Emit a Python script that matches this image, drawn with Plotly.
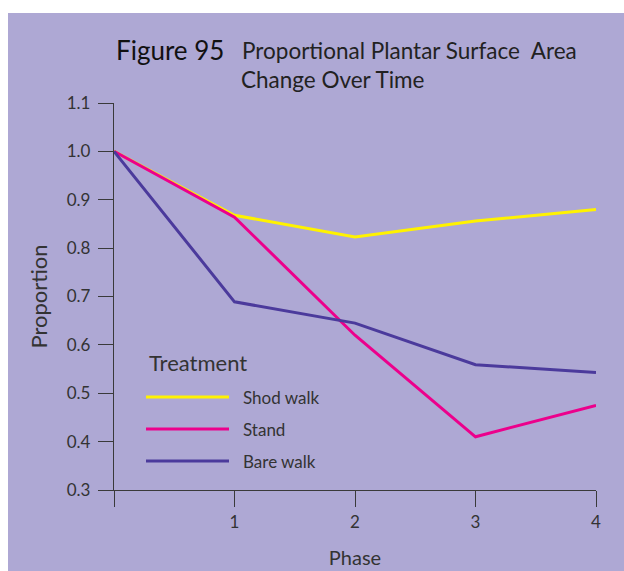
import plotly.graph_objects as go

phases = [0, 1, 2, 3, 4]
x_tick_labels = ["", "1", "2", "3", "4"]
y_tick_vals = [0.3, 0.4, 0.5, 0.6, 0.7, 0.8, 0.9, 1.0, 1.1]
y_tick_labels = ["0.3", "0.4", "0.5", "0.6", "0.7", "0.8", "0.9", "1.0", "1.1"]

series_names = ["Shod walk", "Stand", "Bare walk"]
shod_walk = [1.0, 0.868, 0.823, 0.856, 0.880]
stand = [1.0, 0.864, 0.620, 0.410, 0.475]
bare_walk = [1.0, 0.689, 0.645, 0.559, 0.543]
series_values = [shod_walk, stand, bare_walk]
colors = ["#fff200", "#ec008c", "#4b3a9c"]

BG = "#aea8d4"
TXT = "#333333"
FONT = "Lato"

L, R, T, B = 114, 28, 103, 81
W, H = 624, 571
PW, PH = W - L - R, H - T - B


def px(xs):
    return (xs - L) / PW


def py(ys):
    return (H - B - ys) / PH


fig = go.Figure()
for name, vals, col in zip(series_names, series_values, colors):
    fig.add_trace(go.Scatter(x=phases, y=vals, mode="lines", name=name,
                             line=dict(color=col, width=3), showlegend=False,
                             hoverinfo="skip"))

# purple panel with a white frame strip on the left and top
shapes = [
    dict(type="rect", xref="paper", yref="paper", x0=px(-5), x1=px(640),
         y0=py(13), y1=py(-5), fillcolor="white", line=dict(width=0), layer="below"),
    dict(type="rect", xref="paper", yref="paper", x0=px(-5), x1=px(8),
         y0=py(580), y1=py(-5), fillcolor="white", line=dict(width=0), layer="below"),
]
annotations = []

# legend
annotations.append(dict(text="Treatment", xref="paper", yref="paper", x=px(147), y=py(362),
                         xanchor="left", yanchor="middle", showarrow=False,
                         font=dict(family=FONT, size=22, color=TXT)))
leg_y = [397, 429, 461]
for name, col, yy in zip(series_names, colors, leg_y):
    shapes.append(dict(type="line", xref="paper", yref="paper", x0=px(146), x1=px(229),
                       y0=py(yy), y1=py(yy), line=dict(color=col, width=3)))
    annotations.append(dict(text=name, xref="paper", yref="paper", x=px(241), y=py(yy),
                            xanchor="left", yanchor="middle", showarrow=False,
                            font=dict(family=FONT, size=17, color=TXT)))

# title
annotations.append(dict(text="Figure 95", xref="paper", yref="paper", x=px(114), y=py(50),
                        xanchor="left", yanchor="middle", showarrow=False,
                        font=dict(family=FONT, size=26, color="#111111")))
annotations.append(dict(text="Proportional Plantar Surface  Area", xref="paper", yref="paper",
                        x=px(240), y=py(51), xanchor="left", yanchor="middle", showarrow=False,
                        font=dict(family=FONT, size=22.5, color="#222222")))
annotations.append(dict(text="Change Over Time", xref="paper", yref="paper",
                        x=px(239), y=py(80), xanchor="left", yanchor="middle", showarrow=False,
                        font=dict(family=FONT, size=22.5, color="#222222")))

fig.update_layout(
    width=W, height=H,
    margin=dict(l=L, r=R, t=T, b=B, pad=0),
    paper_bgcolor=BG,
    plot_bgcolor=BG,
    shapes=shapes,
    annotations=annotations,
    font=dict(family=FONT, color=TXT),
    showlegend=False,
)
fig.update_xaxes(range=[0, 4], tickvals=phases, ticktext=x_tick_labels,
                 showgrid=False, zeroline=False, showline=True, linecolor="#3a3a3a",
                 linewidth=1.3, ticks="outside", ticklen=16, tickwidth=1.3, tickcolor="#3a3a3a",
                 tickfont=dict(family=FONT, size=17, color=TXT),
                 title=dict(text="Phase", font=dict(family=FONT, size=20, color=TXT), standoff=20),
                 automargin=False)
fig.update_yaxes(range=[0.3, 1.1], tickvals=y_tick_vals, ticktext=y_tick_labels,
                 showgrid=False, zeroline=False, showline=True, linecolor="#3a3a3a",
                 linewidth=1.3, ticks="outside", ticklen=15, tickwidth=1.3, tickcolor="#3a3a3a",
                 ticklabelstandoff=4,
                 tickfont=dict(family=FONT, size=17, color=TXT),
                 title=dict(text="Proportion", font=dict(family=FONT, size=22, color=TXT), standoff=13),
                 automargin=False)

fig.write_html("out.html",
               config={"displayModeBar": False},
               post_script="document.body.style.margin='0';"
                           "document.documentElement.style.overflow='hidden';")
